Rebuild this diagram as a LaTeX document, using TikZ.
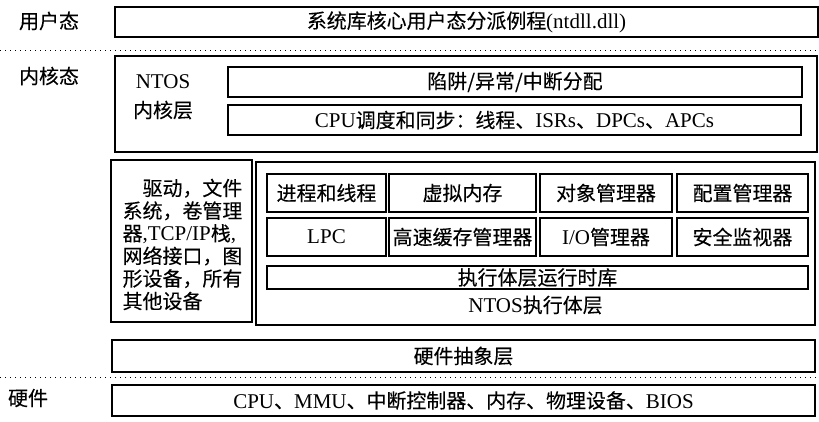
\documentclass[tikz,border=0pt]{standalone}
\usepackage{fontspec}
\setmainfont{Liberation Serif}
\newfontfamily\cjk[Scale=0.95, FakeBold=0.2]{Noto Sans CJK SC}
\newcommand\zh[1]{{\cjk #1}}
\tikzset{
  layer/.style={draw, line width=1.1pt, inner sep=0pt, minimum height=30pt},
  outerlayer/.style={draw, line width=1.7pt, inner sep=0pt},
  module/.style={draw, line width=1.1pt, inner sep=0pt, minimum height=38pt},
  modelabel/.style={inner sep=0pt},
  sep/.style={line width=1pt, dash pattern=on 1pt off 4pt},
}
\begin{document}
\begin{tikzpicture}[x=1pt, y=-1pt, font=\fontsize{21}{23}\selectfont]
  \useasboundingbox (0,0) rectangle (819,421);
  % mode labels
  \node[modelabel] (umode) at (49,21) {\zh{用户态}};
  \node[modelabel] (kmode) at (49,76) {\zh{内核态}};
  \node[modelabel] (hmode) at (28,398) {\zh{硬件}};
  % separators
  \coordinate (sepAw) at (0,50);   \coordinate (sepAe) at (819,50);
  \coordinate (sepBw) at (0,377);  \coordinate (sepBe) at (819,377);
  \draw[sep] (sepAw) -- (sepAe);
  \draw[sep] (sepBw) -- (sepBe);
  % user mode
  \node[layer, minimum width=703pt] (ntdll) at (466.5,22)
    {\zh{系统库核心用户态分派例程}(ntdll.dll)};
  % kernel layer
  \node[outerlayer, minimum width=702pt, minimum height=96pt] (kernel) at (466,104) {};
  \node[modelabel, align=center, font=\fontsize{21}{29}\selectfont] (ntoslbl) at (163,97)
    {NTOS\\\zh{内核层}};
  \node[layer, minimum width=574pt] (trap) at (515,82) {\zh{陷阱/异常/中断分配}};
  \node[layer, minimum width=573pt] (sched) at (514.5,120)
    {CPU\zh{调度和同步：线程、}ISRs\zh{、}DPCs\zh{、}APCs};
  % drivers
  \node[outerlayer, minimum width=141pt, minimum height=162pt] (drv) at (181.5,241) {};
  \node[modelabel, align=left, font=\fontsize{21}{22.6}\selectfont] (drvtxt) at (182.5,244.5)
    {\zh{　驱动，文件}\\\zh{系统，卷管理}\\\zh{器},TCP/IP\zh{栈},\\\zh{网络接口，图}\\\zh{形设备，所有}\\\zh{其他设备}};
  % executive
  \node[outerlayer, minimum width=559pt, minimum height=163pt] (exec) at (535.5,243.5) {};
  \node[module, minimum width=119pt] (proc) at (326.5,193) {\zh{进程和线程}};
  \node[module, minimum width=147pt] (vm)   at (462.5,193) {\zh{虚拟内存}};
  \node[module, minimum width=132pt] (obj)  at (606,193)   {\zh{对象管理器}};
  \node[module, minimum width=131pt] (cfg)  at (742.5,193) {\zh{配置管理器}};
  \node[module, minimum width=119pt] (lpc)  at (326.5,237) {LPC};
  \node[module, minimum width=147pt] (cache) at (462.5,237) {\zh{高速缓存管理器}};
  \node[module, minimum width=132pt] (io)   at (606,237)   {I/O\zh{管理器}};
  \node[module, minimum width=131pt] (sec)  at (742.5,237) {\zh{安全监视器}};
  \node[layer, minimum width=541pt, minimum height=23pt] (rtl) at (537.5,277.5)
    {\zh{执行体层运行时库}};
  \node[modelabel] (execlbl) at (535.5,305) {NTOS\zh{执行体层}};
  % HAL and hardware
  \node[layer, minimum width=703pt, minimum height=32pt] (hal) at (463.5,356) {\zh{硬件抽象层}};
  \node[layer, minimum width=703pt, minimum height=31pt] (hw) at (463.5,400.5)
    {CPU\zh{、}MMU\zh{、中断控制器、内存、物理设备、}BIOS};
\end{tikzpicture}
\end{document}
